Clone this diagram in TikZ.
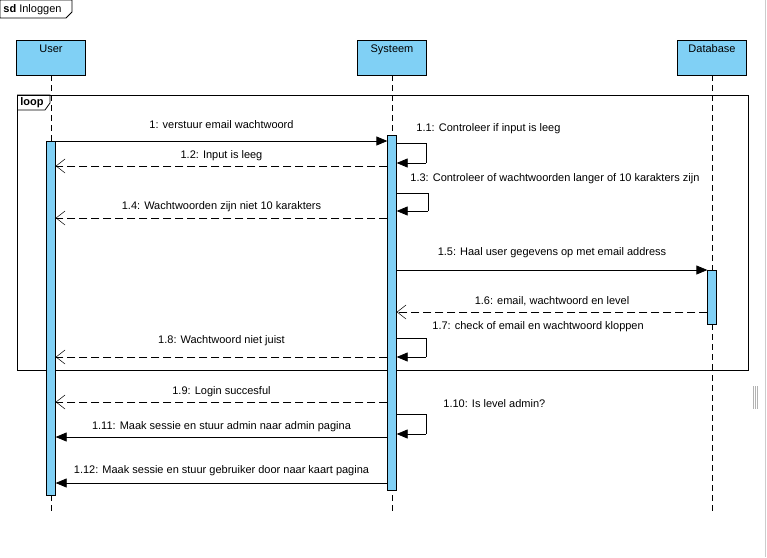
\documentclass[tikz,border=0pt]{standalone}
\usepackage{fontspec}
\setmainfont{Liberation Sans}
\usetikzlibrary{arrows.meta,positioning}

\definecolor{lifeblue}{RGB}{128,208,245}

\tikzset{
	head/.style = {draw, fill=lifeblue, minimum width=69pt, minimum height=35pt, inner sep=0pt},
	bar/.style = {draw, fill=lifeblue, minimum width=8.5pt, inner sep=0pt},
	lifeline/.style = {dash pattern=on 6pt off 4pt},
	call/.style = {-{Triangle[length=11pt,width=9pt]}},
	reply/.style = {dash pattern=on 8pt off 4pt, -{Straight Barb[length=9pt,width=14pt,line width=0.5pt]}},
	msg/.style = {inner sep=0pt}
}

\begin{document}
\begin{tikzpicture}[x=1pt, y=-1pt, font=\fontsize{11}{13}\selectfont, line width=0.8pt]
				\useasboundingbox (0,0) rectangle (767,557);
				% frame tab
				\draw (0,0) -- (72,0) -- (72,12) -- (66,18) -- (0,18) -- cycle;
				\node[anchor=west, inner sep=0pt] (sd) at (3,9.5) {\textbf{sd} Inloggen};
				\draw[gray!40] (765.5,0) -- (765.5,557);
				\foreach \gx in {753,755,757}
					\draw[gray!60, line width=0.6pt] (\gx,386) -- (\gx,409);
				% lifeline heads
				\node[head, label={[anchor=north, inner sep=0pt, yshift=-5pt]north:User}] (user) at (51,57.5) {};
				\node[head, label={[anchor=north, inner sep=0pt, yshift=-5pt]north:Systeem}] (sys) at (392,57.5) {};
				\node[head, label={[anchor=north, inner sep=0pt, yshift=-5pt]north:Database}] (db) at (712,57.5) {};
				\coordinate (userEnd) at (51,512);
				\coordinate (sysEnd) at (392,512);
				\coordinate (dbEnd) at (712,512);
				\draw[lifeline] (user) -- (userEnd);
				\draw[lifeline] (sys) -- (sysEnd);
				\draw[lifeline] (db) -- (dbEnd);
				% loop fragment
				\draw[fill=white] (17,95) rectangle (748,370);
				\draw (17,95) -- (50,95) -- (50,103) -- (45,110) -- (17,110);
				\node[anchor=west, inner sep=0pt, font=\fontsize{11}{13}\selectfont\bfseries] (loop) at (20,102.5) {loop};
				\draw[lifeline] (user.south |- 0,95) -- (user.south |- 0,141);
				\draw[lifeline] (sys.south |- 0,95) -- (sys.south |- 0,135);
				\draw[lifeline] (db.south |- 0,95) -- (db.south |- 0,270);
				\draw[lifeline] (db.south |- 0,324) -- (db.south |- 0,370);
				% activations
				\node[bar, minimum height=354pt] (userAct) at (51,318) {};
				\node[bar, minimum height=355pt] (sysAct) at (392,312.5) {};
				\node[bar, minimum height=54pt] (dbAct) at (712,297) {};
				% messages
				\draw[call] (userAct.east |- 0,141) -- (sysAct.west |- 0,141)
					node[msg, midway, above=12pt] {1: verstuur email wachtwoord};
				\draw (sysAct.east |- 0,143) -| (426,163) coordinate (s1);
				\draw[call] (s1) -- (sysAct.east |- 0,163);
				\node[msg, anchor=west] (m11) at (416,129) {1.1: Controleer if input is leeg};
				\draw[reply] (sysAct.west |- 0,166) -- (userAct.east |- 0,166)
					node[msg, midway, above=5pt] {1.2: Input is leeg};
				\draw (sysAct.east |- 0,193) -| (428,211) coordinate (s3);
				\draw[call] (s3) -- (sysAct.east |- 0,211);
				\node[msg, anchor=west] (m13) at (410,179) {1.3: Controleer of wachtwoorden langer of 10 karakters zijn};
				\draw[reply] (sysAct.west |- 0,218) -- (userAct.east |- 0,218)
					node[msg, midway, above=6pt] {1.4: Wachtwoorden zijn niet 10 karakters};
				\draw[call] (sysAct.east |- 0,270) -- (dbAct.west |- 0,270)
					node[msg, midway, above=12pt] {1.5: Haal user gegevens op met email address};
				\draw[reply] (dbAct.west |- 0,312) -- (sysAct.east |- 0,312)
					node[msg, midway, above=6pt] {1.6: email, wachtwoord en level};
				\draw (sysAct.east |- 0,338) -| (426,357) coordinate (s7);
				\draw[call] (s7) -- (sysAct.east |- 0,357);
				\node[msg, anchor=west] (m17) at (432,327) {1.7: check of email en wachtwoord kloppen};
				\draw[reply] (sysAct.west |- 0,357) -- (userAct.east |- 0,357)
					node[msg, midway, above=11pt] {1.8: Wachtwoord niet juist};
				\draw[reply] (sysAct.west |- 0,402) -- (userAct.east |- 0,402)
					node[msg, midway, above=5pt] {1.9: Login succesful};
				\draw (sysAct.east |- 0,414) -| (426,434) coordinate (s10);
				\draw[call] (s10) -- (sysAct.east |- 0,434);
				\node[msg, anchor=west] (m110) at (443,404) {1.10: Is level admin?};
				\draw[call] (sysAct.west |- 0,437) -- (userAct.east |- 0,437)
					node[msg, midway, above=5pt] {1.11: Maak sessie en stuur admin naar admin pagina};
				\draw[call] (sysAct.west |- 0,483) -- (userAct.east |- 0,483)
					node[msg, midway, above=7pt] {1.12: Maak sessie en stuur gebruiker door naar kaart pagina};
			\end{tikzpicture}
\end{document}
